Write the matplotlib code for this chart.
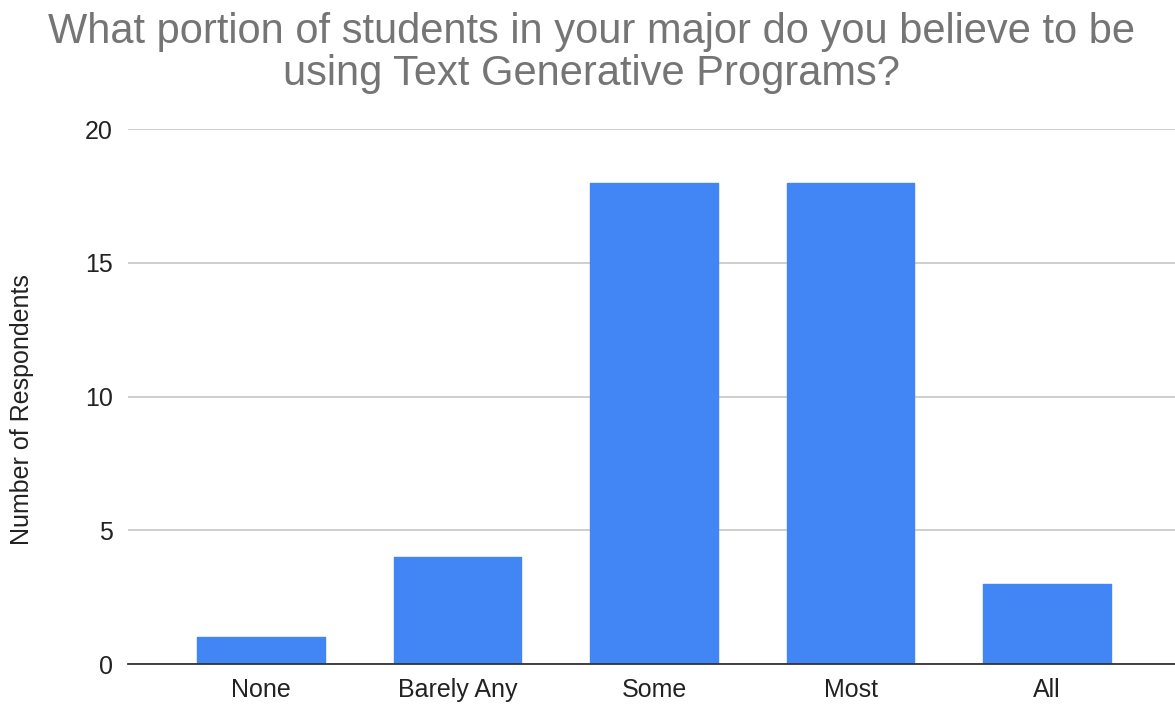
import matplotlib.pyplot as plt

categories = ["None", "Barely Any", "Some", "Most", "All"]
respondents = [1, 4, 18, 18, 3]
y_ticks = [0, 5, 10, 15, 20]

plt.rcParams['font.family'] = ['Liberation Sans', 'DejaVu Sans']

fig = plt.figure(figsize=(11.75, 7.04), dpi=100)
ax = fig.add_axes([128 / 1175, 1 - 664 / 704, 1 - 128 / 1175, (664 - 129) / 704])

x = range(len(categories))
ax.bar(x, respondents, width=0.648, color="#4285f4", edgecolor="#4285f4",
       linewidth=1.0, joinstyle="round", zorder=3)

ax.set_xlim(-0.677, 4.651)
ax.set_ylim(0, 20)
ax.set_yticks(y_ticks)
ax.set_xticks(list(x))
ax.set_xticklabels(categories)

ax.grid(axis="y", color="#cccccc", linewidth=1.3, zorder=0)
for side in ["top", "right", "left"]:
    ax.spines[side].set_visible(False)
ax.spines["bottom"].set_color("#333333")
ax.spines["bottom"].set_linewidth(1.3)
ax.spines["bottom"].set_zorder(4)

ax.tick_params(axis="both", length=0, labelsize=18, labelcolor="#222222")
ax.tick_params(axis="y", pad=11)
ax.tick_params(axis="x", pad=10)

ax.set_ylabel("Number of Respondents", fontsize=18, color="#222222")
ax.yaxis.set_label_coords(-0.101, 0.475)
ax.yaxis.label.set_va("center")

fig.text(591.5 / 1175, 1 - 12 / 704,
         "What portion of students in your major do you believe to be\nusing Text Generative Programs?",
         ha="center", va="top", fontsize=30, color="#757575", linespacing=1.08)

fig.savefig("out.png", dpi=100)
